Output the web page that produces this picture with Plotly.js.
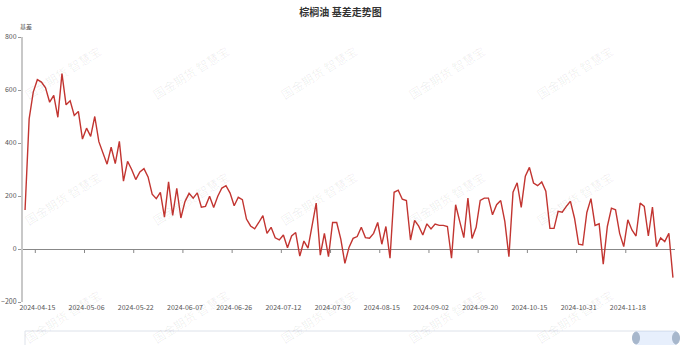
<!DOCTYPE html>
<html><head><meta charset="utf-8">
<script src="https://cdn.plot.ly/plotly-3.0.1.min.js"></script>
<style>html,body{margin:0;padding:0;background:#fff;overflow:hidden}#chart{width:681px;height:345px}</style>
</head><body><div id="chart"></div>
<script>
// ---- data ----
const chartTitle = '棕榈油 基差走势图';
const seriesName = '基差';
const yAxisName = '基差';
const watermarkText = '国金期货 智慧宝';

const dates = [
 '2024-04-10','2024-04-11','2024-04-12','2024-04-15','2024-04-16','2024-04-17','2024-04-18','2024-04-19','2024-04-22','2024-04-23','2024-04-24','2024-04-25','2024-04-26','2024-04-29','2024-04-30',
 '2024-05-06','2024-05-07','2024-05-08','2024-05-09','2024-05-10','2024-05-13','2024-05-14','2024-05-15','2024-05-16','2024-05-17','2024-05-20','2024-05-21','2024-05-22','2024-05-23','2024-05-24','2024-05-27','2024-05-28','2024-05-29','2024-05-30','2024-05-31',
 '2024-06-03','2024-06-04','2024-06-05','2024-06-06','2024-06-07','2024-06-11','2024-06-12','2024-06-13','2024-06-14','2024-06-17','2024-06-18','2024-06-19','2024-06-20','2024-06-21','2024-06-24','2024-06-25','2024-06-26','2024-06-27','2024-06-28',
 '2024-07-01','2024-07-02','2024-07-03','2024-07-04','2024-07-05','2024-07-08','2024-07-09','2024-07-10','2024-07-11','2024-07-12','2024-07-15','2024-07-16','2024-07-17','2024-07-18','2024-07-19','2024-07-22','2024-07-23','2024-07-24','2024-07-25','2024-07-26','2024-07-29','2024-07-30','2024-07-31',
 '2024-08-01','2024-08-02','2024-08-05','2024-08-06','2024-08-07','2024-08-08','2024-08-09','2024-08-12','2024-08-13','2024-08-14','2024-08-15','2024-08-16','2024-08-19','2024-08-20','2024-08-21','2024-08-22','2024-08-23','2024-08-26','2024-08-27','2024-08-28','2024-08-29','2024-08-30',
 '2024-09-02','2024-09-03','2024-09-04','2024-09-05','2024-09-06','2024-09-09','2024-09-10','2024-09-11','2024-09-12','2024-09-13','2024-09-18','2024-09-19','2024-09-20','2024-09-23','2024-09-24','2024-09-25','2024-09-26','2024-09-27','2024-09-30',
 '2024-10-08','2024-10-09','2024-10-10','2024-10-11','2024-10-14','2024-10-15','2024-10-16','2024-10-17','2024-10-18','2024-10-21','2024-10-22','2024-10-23','2024-10-24','2024-10-25','2024-10-28','2024-10-29','2024-10-30','2024-10-31',
 '2024-11-01','2024-11-04','2024-11-05','2024-11-06','2024-11-07','2024-11-08','2024-11-11','2024-11-12','2024-11-13','2024-11-14','2024-11-15','2024-11-18','2024-11-19','2024-11-20','2024-11-21','2024-11-22','2024-11-25','2024-11-26','2024-11-27','2024-11-28','2024-11-29',
 '2024-12-02','2024-12-03'
];

const basis = [
 147,491,592,639,630,608,554,580,497,662,544,559,504,519,415,
 456,425,500,405,358,320,384,322,406,256,331,300,262,291,303,272,207,190,214,120,
 253,127,229,117,179,210,192,212,158,161,199,157,199,230,239,211,163,195,186,
 113,87,76,100,126,59,82,42,34,53,5,49,62,-27,30,3,88,173,-23,59,-29,100,100,
 37,-54,6,40,47,82,43,41,59,100,18,85,-35,214,222,188,183,34,108,86,53,95,
 76,94,89,89,85,-35,167,104,43,192,40,82,183,192,192,129,167,183,104,
 -29,214,250,157,275,308,249,239,253,218,78,78,142,139,161,180,116,18,
 15,138,190,89,95,-57,85,154,148,59,9,110,72,49,173,161,49,158,9,42,28,
 59,-108
];

const xTickLabels = ['2024-04-15','2024-05-06','2024-05-22','2024-06-07','2024-06-26','2024-07-12','2024-07-30','2024-08-15','2024-09-02','2024-09-20','2024-10-15','2024-10-31','2024-11-18'];
const yTickValues = [-200,0,200,400,600,800];

// ---- layout helpers ----
const W = 681, H = 345, M = {l:23, r:6, t:37, b:43};
const PW = W - M.l - M.r, PH = H - M.t - M.b;
const pxX = x => (x - M.l) / PW;
const pxY = y => (H - M.b - y) / PH;
const FONT = '"Noto Sans CJK SC", "Noto Sans", sans-serif';

const shapes = [];
// ticks on the zero axis line, at the left boundary of each labelled category
xTickLabels.forEach(lbl => {
  const idx = dates.indexOf(lbl);
  shapes.push({type:'line', xref:'x', yref:'y', ysizemode:'pixel', yanchor:0,
    x0: idx - 0.5, x1: idx - 0.5, y0: 0, y1: -4, line:{color:'#888', width:1}});
});
// dataZoom slider decoration
shapes.push({type:'rect', xref:'paper', yref:'paper', x0:pxX(25), x1:pxX(676), y0:pxY(331), y1:pxY(347),
  line:{color:'#dde2ea', width:1}, fillcolor:'rgba(0,0,0,0)', layer:'above'});
shapes.push({type:'rect', xref:'paper', yref:'paper', x0:pxX(636), x1:pxX(676), y0:pxY(331), y1:pxY(347),
  line:{width:0}, fillcolor:'rgba(135,175,240,0.2)', layer:'above'});
[636, 676].forEach(hx => {
  shapes.push({type:'circle', xref:'paper', yref:'paper', xsizemode:'pixel', ysizemode:'pixel',
    xanchor:pxX(hx), yanchor:pxY(338), x0:-3.5, x1:3.5, y0:-6, y1:6,
    line:{color:'#a7b7cc', width:1}, fillcolor:'#a7b7cc', layer:'above'});
});

const annotations = [
  {text: yAxisName, xref:'paper', yref:'paper', x:pxX(26), y:pxY(26), xanchor:'center', yanchor:'middle',
   showarrow:false, font:{family:FONT, size:6, color:'#555'}}
];
// watermark grid (kept inside the picture)
const wmCols = [62, 190, 318, 446, 574];
const wmRows = [72, 198, 316];
wmRows.forEach(cy => {
  wmCols.forEach(cx => {
    annotations.push({text: watermarkText, xref:'paper', yref:'paper', x:pxX(cx), y:pxY(cy),
      xanchor:'center', yanchor:'middle', showarrow:false, textangle:-32,
      font:{family:FONT, size:12, color:'rgba(0,0,0,0.07)'}});
  });
});

const trace = {
  type:'scatter', mode:'lines', name: seriesName,
  x: dates, y: basis,
  line:{color:'#c23531', width:1.4},
  hoverinfo:'x+y'
};

const layout = {
  width: W, height: H,
  margin: {l:M.l, r:M.r, t:M.t, b:M.b, pad:0},
  paper_bgcolor:'#fff', plot_bgcolor:'#fff',
  showlegend:false,
  title: {text:'<b>' + chartTitle + '</b>', x:0.5, xref:'container', xanchor:'center',
          y: 1 - 12/H, yref:'container', yanchor:'middle',
          font:{family:FONT, size:10, color:'#333'}},
  xaxis: {type:'category', range:[-0.5, dates.length - 0.5], autorange:false,
          showline:false, showgrid:false, zeroline:false, ticks:'',
          tickmode:'array', tickvals: xTickLabels, ticktext: xTickLabels,
          tickangle:0, tickfont:{family:FONT, size:7, color:'#555'}, fixedrange:true},
  yaxis: {range:[-200, 800], autorange:false, tickmode:'array', tickvals: yTickValues,
          showline:true, linecolor:'#c8c8c8', linewidth:2, ticks:'outside', ticklen:3, tickcolor:'#999',
          showgrid:false, zeroline:true, zerolinecolor:'#888', zerolinewidth:1,
          tickfont:{family:FONT, size:7, color:'#555'}, fixedrange:true},
  shapes: shapes,
  annotations: annotations,
  font:{family:FONT}
};

Plotly.newPlot('chart', [trace], layout, {displayModeBar:false, staticPlot:true});
</script>
</body></html>
